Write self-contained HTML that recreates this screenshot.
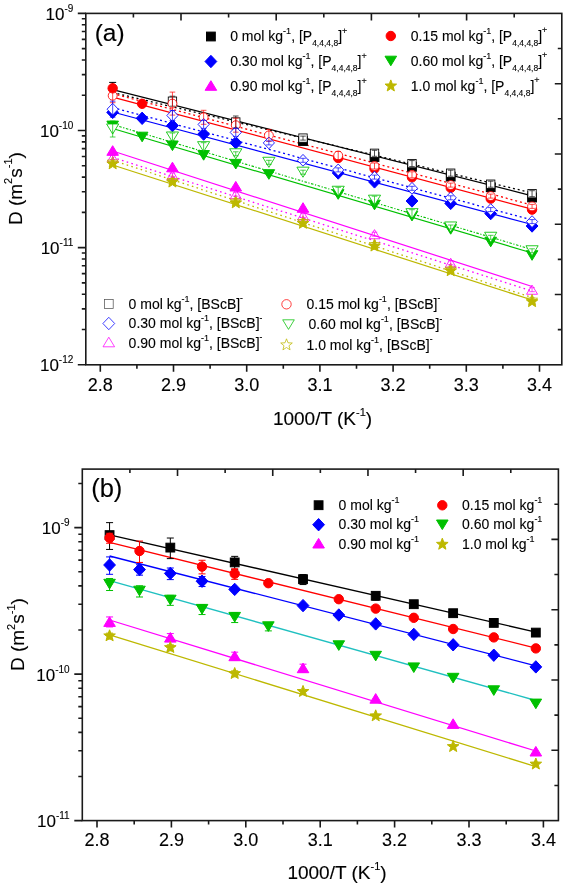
<!DOCTYPE html>
<html><head><meta charset="utf-8"><style>html,body{margin:0;padding:0;background:#fff;}svg{display:block;will-change:transform;}</style></head>
<body>
<svg width="566" height="886" viewBox="0 0 566 886" font-family='"Liberation Sans", sans-serif' fill="#000">
<style>text{stroke:#000;stroke-width:0.12px;paint-order:stroke;}</style>
<rect width="566" height="886" fill="#fff"/>
<path d="M100.30 364.80V371.80 M173.50 364.80V371.80 M246.70 364.80V371.80 M319.90 364.80V371.80 M393.10 364.80V371.80 M466.30 364.80V371.80 M539.50 364.80V371.80 M136.90 364.80V368.80 M210.10 364.80V368.80 M283.30 364.80V368.80 M356.50 364.80V368.80 M429.70 364.80V368.80 M502.90 364.80V368.80 M77.80 364.70H85.80 M81.80 329.45H85.80 M81.80 308.83H85.80 M81.80 294.20H85.80 M81.80 282.85H85.80 M81.80 273.58H85.80 M81.80 265.74H85.80 M81.80 258.95H85.80 M81.80 252.96H85.80 M77.80 247.60H85.80 M81.80 212.35H85.80 M81.80 191.73H85.80 M81.80 177.10H85.80 M81.80 165.75H85.80 M81.80 156.48H85.80 M81.80 148.64H85.80 M81.80 141.85H85.80 M81.80 135.86H85.80 M77.80 130.50H85.80 M81.80 95.25H85.80 M81.80 74.63H85.80 M81.80 60.00H85.80 M81.80 48.65H85.80 M81.80 39.38H85.80 M81.80 31.54H85.80 M81.80 24.75H85.80 M81.80 18.76H85.80 M77.80 13.40H85.80 M133.40 13.40V17.40 M181.00 13.40V20.40 M228.60 13.40V17.40 M276.20 13.40V20.40 M323.80 13.40V17.40 M371.40 13.40V20.40 M419.00 13.40V17.40 M466.60 13.40V20.40 M514.20 13.40V17.40 M561.80 329.66H557.80 M561.80 294.52H554.80 M561.80 259.38H557.80 M561.80 224.24H554.80 M561.80 189.10H557.80 M561.80 153.96H554.80 M561.80 118.82H557.80 M561.80 83.68H554.80 M561.80 48.54H557.80" stroke="#1a1a1a" stroke-width="1.6" fill="none"/>
<rect x="85.80" y="13.40" width="476.00" height="351.40" stroke="#1a1a1a" stroke-width="1.6" fill="none"/>
<text x="100.30" y="390.80" font-size="18" text-anchor="middle">2.8</text>
<text x="173.50" y="390.80" font-size="18" text-anchor="middle">2.9</text>
<text x="246.70" y="390.80" font-size="18" text-anchor="middle">3.0</text>
<text x="319.90" y="390.80" font-size="18" text-anchor="middle">3.1</text>
<text x="393.10" y="390.80" font-size="18" text-anchor="middle">3.2</text>
<text x="466.30" y="390.80" font-size="18" text-anchor="middle">3.3</text>
<text x="539.50" y="390.80" font-size="18" text-anchor="middle">3.4</text>
<text x="73.30" y="20.10" text-anchor="end" font-size="17">10<tspan font-size="10" dy="-8">-9</tspan></text>
<text x="73.30" y="137.20" text-anchor="end" font-size="17">10<tspan font-size="10" dy="-8">-10</tspan></text>
<text x="73.30" y="254.30" text-anchor="end" font-size="17">10<tspan font-size="10" dy="-8">-11</tspan></text>
<text x="73.30" y="371.40" text-anchor="end" font-size="17">10<tspan font-size="10" dy="-8">-12</tspan></text>
<path d="M97.00 820.60V827.60 M171.40 820.60V827.60 M245.80 820.60V827.60 M320.20 820.60V827.60 M394.60 820.60V827.60 M469.00 820.60V827.60 M543.40 820.60V827.60 M134.20 820.60V824.60 M208.60 820.60V824.60 M283.00 820.60V824.60 M357.40 820.60V824.60 M431.80 820.60V824.60 M506.20 820.60V824.60 M74.30 820.60H82.30 M78.30 776.50H82.30 M78.30 750.70H82.30 M78.30 732.40H82.30 M78.30 718.20H82.30 M78.30 706.60H82.30 M78.30 696.79H82.30 M78.30 688.30H82.30 M78.30 680.80H82.30 M74.30 674.10H82.30 M78.30 630.00H82.30 M78.30 604.20H82.30 M78.30 585.90H82.30 M78.30 571.70H82.30 M78.30 560.10H82.30 M78.30 550.29H82.30 M78.30 541.80H82.30 M78.30 534.30H82.30 M74.30 527.60H82.30 M78.30 483.50H82.30 M129.91 469.10V473.10 M177.52 469.10V476.10 M225.13 469.10V473.10 M272.74 469.10V476.10 M320.35 469.10V473.10 M367.96 469.10V476.10 M415.57 469.10V473.10 M463.18 469.10V476.10 M510.79 469.10V473.10 M558.40 785.45H554.40 M558.40 750.30H551.40 M558.40 715.15H554.40 M558.40 680.00H551.40 M558.40 644.85H554.40 M558.40 609.70H551.40 M558.40 574.55H554.40 M558.40 539.40H551.40 M558.40 504.25H554.40" stroke="#1a1a1a" stroke-width="1.6" fill="none"/>
<rect x="82.30" y="469.10" width="476.10" height="351.50" stroke="#1a1a1a" stroke-width="1.6" fill="none"/>
<text x="97.00" y="846.40" font-size="18" text-anchor="middle">2.8</text>
<text x="171.40" y="846.40" font-size="18" text-anchor="middle">2.9</text>
<text x="245.80" y="846.40" font-size="18" text-anchor="middle">3.0</text>
<text x="320.20" y="846.40" font-size="18" text-anchor="middle">3.1</text>
<text x="394.60" y="846.40" font-size="18" text-anchor="middle">3.2</text>
<text x="469.00" y="846.40" font-size="18" text-anchor="middle">3.3</text>
<text x="543.40" y="846.40" font-size="18" text-anchor="middle">3.4</text>
<text x="69.60" y="534.30" text-anchor="end" font-size="17">10<tspan font-size="10" dy="-8">-9</tspan></text>
<text x="69.60" y="680.80" text-anchor="end" font-size="17">10<tspan font-size="10" dy="-8">-10</tspan></text>
<text x="69.60" y="827.30" text-anchor="end" font-size="17">10<tspan font-size="10" dy="-8">-11</tspan></text>
<text x="322.5" y="425.4" font-size="19" text-anchor="middle">1000/T (K<tspan font-size="11" dy="-9.5">-1</tspan><tspan dy="9.5">)</tspan></text>
<text x="337.0" y="879" font-size="19" text-anchor="middle">1000/T (K<tspan font-size="11" dy="-9.5">-1</tspan><tspan dy="9.5">)</tspan></text>
<text transform="translate(21.7 188.6) rotate(-90)" font-size="19" text-anchor="middle">D (m<tspan font-size="11" dy="-9.5">2</tspan><tspan dy="9.5">s</tspan><tspan font-size="11" dy="-9.5">-1</tspan><tspan dy="9.5">)</tspan></text>
<text transform="translate(24.4 634.6) rotate(-90)" font-size="19" text-anchor="middle">D (m<tspan font-size="11" dy="-9.5">2</tspan><tspan dy="9.5">s</tspan><tspan font-size="11" dy="-9.5">-1</tspan><tspan dy="9.5">)</tspan></text>
<text x="94.7" y="41.2" font-size="24.5">(a)</text>
<text x="91.2" y="497.2" font-size="25.5">(b)</text>
<path d="M109.57 534.80L535.83 632.10" stroke="#000000" stroke-width="1.3" fill="none"/>
<path d="M109.57 542.40L535.83 648.10" stroke="#ff0000" stroke-width="1.3" fill="none"/>
<path d="M109.57 556.00L535.83 665.80" stroke="#0000ff" stroke-width="1.3" fill="none"/>
<path d="M109.57 580.60L535.83 700.50" stroke="#20c0c0" stroke-width="1.3" fill="none"/>
<path d="M109.57 620.00L535.83 751.00" stroke="#ff00ff" stroke-width="1.3" fill="none"/>
<path d="M109.57 634.90L535.83 766.60" stroke="#bdb800" stroke-width="1.3" fill="none"/>
<path d="M109.57 522.64V549.44M106.07 522.64H113.07M106.07 549.44H113.07" stroke="#000000" stroke-width="1.0" fill="none"/>
<rect x="105.17" y="530.70" width="8.80" height="8.80" fill="#000000" stroke="#000000" stroke-width="1.0"/>
<path d="M170.32 538.02V558.62M166.82 538.02H173.82M166.82 558.62H173.82" stroke="#000000" stroke-width="1.0" fill="none"/>
<rect x="165.92" y="543.20" width="8.80" height="8.80" fill="#000000" stroke="#000000" stroke-width="1.0"/>
<path d="M234.70 556.36V569.36M231.20 556.36H238.20M231.20 569.36H238.20" stroke="#000000" stroke-width="1.0" fill="none"/>
<rect x="230.30" y="558.00" width="8.80" height="8.80" fill="#000000" stroke="#000000" stroke-width="1.0"/>
<path d="M303.03 574.55V584.55M299.53 574.55H306.53M299.53 584.55H306.53" stroke="#000000" stroke-width="1.0" fill="none"/>
<rect x="298.63" y="574.80" width="8.80" height="8.80" fill="#000000" stroke="#000000" stroke-width="1.0"/>
<path d="M375.70 592.08V600.08M372.20 592.08H379.20M372.20 600.08H379.20" stroke="#000000" stroke-width="1.0" fill="none"/>
<rect x="371.30" y="591.40" width="8.80" height="8.80" fill="#000000" stroke="#000000" stroke-width="1.0"/>
<rect x="409.40" y="599.80" width="8.80" height="8.80" fill="#000000" stroke="#000000" stroke-width="1.0"/>
<rect x="448.74" y="608.80" width="8.80" height="8.80" fill="#000000" stroke="#000000" stroke-width="1.0"/>
<rect x="489.40" y="618.50" width="8.80" height="8.80" fill="#000000" stroke="#000000" stroke-width="1.0"/>
<rect x="531.43" y="628.20" width="8.80" height="8.80" fill="#000000" stroke="#000000" stroke-width="1.0"/>
<path d="M109.57 533.25V543.25M106.07 533.25H113.07M106.07 543.25H113.07" stroke="#ff0000" stroke-width="1.0" fill="none"/>
<circle cx="109.57" cy="537.90" r="4.70" fill="#ff0000" stroke="#ff0000" stroke-width="1.0"/>
<path d="M139.51 541.05V562.45M136.01 541.05H143.01M136.01 562.45H143.01" stroke="#ff0000" stroke-width="1.0" fill="none"/>
<circle cx="139.51" cy="551.00" r="4.70" fill="#ff0000" stroke="#ff0000" stroke-width="1.0"/>
<path d="M202.04 560.28V573.88M198.54 560.28H205.54M198.54 573.88H205.54" stroke="#ff0000" stroke-width="1.0" fill="none"/>
<circle cx="202.04" cy="566.60" r="4.70" fill="#ff0000" stroke="#ff0000" stroke-width="1.0"/>
<path d="M234.70 568.77V579.37M231.20 568.77H238.20M231.20 579.37H238.20" stroke="#ff0000" stroke-width="1.0" fill="none"/>
<circle cx="234.70" cy="573.70" r="4.70" fill="#ff0000" stroke="#ff0000" stroke-width="1.0"/>
<circle cx="268.35" cy="583.20" r="4.70" fill="#ff0000" stroke="#ff0000" stroke-width="1.0"/>
<circle cx="338.80" cy="599.20" r="4.70" fill="#ff0000" stroke="#ff0000" stroke-width="1.0"/>
<circle cx="375.70" cy="608.60" r="4.70" fill="#ff0000" stroke="#ff0000" stroke-width="1.0"/>
<circle cx="413.80" cy="617.80" r="4.70" fill="#ff0000" stroke="#ff0000" stroke-width="1.0"/>
<circle cx="453.14" cy="629.00" r="4.70" fill="#ff0000" stroke="#ff0000" stroke-width="1.0"/>
<circle cx="493.80" cy="637.40" r="4.70" fill="#ff0000" stroke="#ff0000" stroke-width="1.0"/>
<circle cx="535.83" cy="648.40" r="4.70" fill="#ff0000" stroke="#ff0000" stroke-width="1.0"/>
<path d="M109.57 556.91V574.31M106.07 556.91H113.07M106.07 574.31H113.07" stroke="#0000ff" stroke-width="1.0" fill="none"/>
<path d="M109.57 558.80L115.47 565.00L109.57 571.20L103.67 565.00Z" fill="#0000ff" stroke="#0000ff" stroke-width="1.0"/>
<path d="M139.51 564.76V575.16M136.01 564.76H143.01M136.01 575.16H143.01" stroke="#0000ff" stroke-width="1.0" fill="none"/>
<path d="M139.51 563.40L145.41 569.60L139.51 575.80L133.61 569.60Z" fill="#0000ff" stroke="#0000ff" stroke-width="1.0"/>
<path d="M170.32 568.01V579.61M166.82 568.01H173.82M166.82 579.61H173.82" stroke="#0000ff" stroke-width="1.0" fill="none"/>
<path d="M170.32 567.20L176.22 573.40L170.32 579.60L164.42 573.40Z" fill="#0000ff" stroke="#0000ff" stroke-width="1.0"/>
<path d="M202.04 576.55V586.55M198.54 576.55H205.54M198.54 586.55H205.54" stroke="#0000ff" stroke-width="1.0" fill="none"/>
<path d="M202.04 575.00L207.94 581.20L202.04 587.40L196.14 581.20Z" fill="#0000ff" stroke="#0000ff" stroke-width="1.0"/>
<path d="M234.70 583.20L240.60 589.40L234.70 595.60L228.80 589.40Z" fill="#0000ff" stroke="#0000ff" stroke-width="1.0"/>
<path d="M303.03 599.40L308.93 605.60L303.03 611.80L297.13 605.60Z" fill="#0000ff" stroke="#0000ff" stroke-width="1.0"/>
<path d="M338.80 608.80L344.70 615.00L338.80 621.20L332.90 615.00Z" fill="#0000ff" stroke="#0000ff" stroke-width="1.0"/>
<path d="M375.70 617.70L381.60 623.90L375.70 630.10L369.80 623.90Z" fill="#0000ff" stroke="#0000ff" stroke-width="1.0"/>
<path d="M413.80 628.20L419.70 634.40L413.80 640.60L407.90 634.40Z" fill="#0000ff" stroke="#0000ff" stroke-width="1.0"/>
<path d="M453.14 638.60L459.04 644.80L453.14 651.00L447.24 644.80Z" fill="#0000ff" stroke="#0000ff" stroke-width="1.0"/>
<path d="M493.80 649.00L499.70 655.20L493.80 661.40L487.90 655.20Z" fill="#0000ff" stroke="#0000ff" stroke-width="1.0"/>
<path d="M535.83 660.70L541.73 666.90L535.83 673.10L529.93 666.90Z" fill="#0000ff" stroke="#0000ff" stroke-width="1.0"/>
<path d="M109.57 578.52V590.52M106.07 578.52H113.07M106.07 590.52H113.07" stroke="#00c000" stroke-width="1.0" fill="none"/>
<path d="M103.77 579.30L115.37 579.30L109.57 588.90Z" fill="#00c000" stroke="#00c000" stroke-width="1.0"/>
<path d="M139.51 585.79V596.99M136.01 585.79H143.01M136.01 596.99H143.01" stroke="#00c000" stroke-width="1.0" fill="none"/>
<path d="M133.71 586.20L145.31 586.20L139.51 595.80Z" fill="#00c000" stroke="#00c000" stroke-width="1.0"/>
<path d="M170.32 595.35V605.35M166.82 595.35H173.82M166.82 605.35H173.82" stroke="#00c000" stroke-width="1.0" fill="none"/>
<path d="M164.52 595.20L176.12 595.20L170.32 604.80Z" fill="#00c000" stroke="#00c000" stroke-width="1.0"/>
<path d="M202.04 604.55V614.55M198.54 604.55H205.54M198.54 614.55H205.54" stroke="#00c000" stroke-width="1.0" fill="none"/>
<path d="M196.24 604.40L207.84 604.40L202.04 614.00Z" fill="#00c000" stroke="#00c000" stroke-width="1.0"/>
<path d="M234.70 612.55V622.55M231.20 612.55H238.20M231.20 622.55H238.20" stroke="#00c000" stroke-width="1.0" fill="none"/>
<path d="M228.90 612.40L240.50 612.40L234.70 622.00Z" fill="#00c000" stroke="#00c000" stroke-width="1.0"/>
<path d="M268.35 622.88V630.88M264.85 622.88H271.85M264.85 630.88H271.85" stroke="#00c000" stroke-width="1.0" fill="none"/>
<path d="M262.55 621.80L274.15 621.80L268.35 631.40Z" fill="#00c000" stroke="#00c000" stroke-width="1.0"/>
<path d="M333.00 640.80L344.60 640.80L338.80 650.40Z" fill="#00c000" stroke="#00c000" stroke-width="1.0"/>
<path d="M369.90 651.30L381.50 651.30L375.70 660.90Z" fill="#00c000" stroke="#00c000" stroke-width="1.0"/>
<path d="M408.00 662.90L419.60 662.90L413.80 672.50Z" fill="#00c000" stroke="#00c000" stroke-width="1.0"/>
<path d="M447.34 673.30L458.94 673.30L453.14 682.90Z" fill="#00c000" stroke="#00c000" stroke-width="1.0"/>
<path d="M488.00 685.80L499.60 685.80L493.80 695.40Z" fill="#00c000" stroke="#00c000" stroke-width="1.0"/>
<path d="M530.03 699.10L541.63 699.10L535.83 708.70Z" fill="#00c000" stroke="#00c000" stroke-width="1.0"/>
<path d="M109.57 616.95V626.95M106.07 616.95H113.07M106.07 626.95H113.07" stroke="#ff00ff" stroke-width="1.0" fill="none"/>
<path d="M103.77 626.40L115.37 626.40L109.57 616.80Z" fill="#ff00ff" stroke="#ff00ff" stroke-width="1.0"/>
<path d="M170.32 633.58V641.58M166.82 633.58H173.82M166.82 641.58H173.82" stroke="#ff00ff" stroke-width="1.0" fill="none"/>
<path d="M164.52 642.10L176.12 642.10L170.32 632.50Z" fill="#ff00ff" stroke="#ff00ff" stroke-width="1.0"/>
<path d="M234.70 652.18V660.18M231.20 652.18H238.20M231.20 660.18H238.20" stroke="#ff00ff" stroke-width="1.0" fill="none"/>
<path d="M228.90 660.70L240.50 660.70L234.70 651.10Z" fill="#ff00ff" stroke="#ff00ff" stroke-width="1.0"/>
<path d="M303.03 664.18V672.18M299.53 664.18H306.53M299.53 672.18H306.53" stroke="#ff00ff" stroke-width="1.0" fill="none"/>
<path d="M297.23 672.70L308.83 672.70L303.03 663.10Z" fill="#ff00ff" stroke="#ff00ff" stroke-width="1.0"/>
<path d="M369.90 703.20L381.50 703.20L375.70 693.60Z" fill="#ff00ff" stroke="#ff00ff" stroke-width="1.0"/>
<path d="M447.34 728.40L458.94 728.40L453.14 718.80Z" fill="#ff00ff" stroke="#ff00ff" stroke-width="1.0"/>
<path d="M530.03 756.00L541.63 756.00L535.83 746.40Z" fill="#ff00ff" stroke="#ff00ff" stroke-width="1.0"/>
<path d="M109.57 633.11V639.11M106.07 633.11H113.07M106.07 639.11H113.07" stroke="#bdb800" stroke-width="1.0" fill="none"/>
<path d="M109.57 629.80L108.05 633.80L103.77 634.01L107.10 636.70L105.99 640.84L109.57 638.50L113.16 640.84L112.05 636.70L115.38 634.01L111.10 633.80Z" fill="#bdb800" stroke="#bdb800" stroke-width="1.0" stroke-linejoin="round"/>
<path d="M170.32 644.81V650.81M166.82 644.81H173.82M166.82 650.81H173.82" stroke="#bdb800" stroke-width="1.0" fill="none"/>
<path d="M170.32 641.50L168.79 645.50L164.52 645.71L167.85 648.40L166.74 652.54L170.32 650.20L173.91 652.54L172.79 648.40L176.12 645.71L171.85 645.50Z" fill="#bdb800" stroke="#bdb800" stroke-width="1.0" stroke-linejoin="round"/>
<path d="M234.70 670.81V676.81M231.20 670.81H238.20M231.20 676.81H238.20" stroke="#bdb800" stroke-width="1.0" fill="none"/>
<path d="M234.70 667.50L233.17 671.50L228.89 671.71L232.22 674.40L231.11 678.54L234.70 676.20L238.28 678.54L237.17 674.40L240.50 671.71L236.22 671.50Z" fill="#bdb800" stroke="#bdb800" stroke-width="1.0" stroke-linejoin="round"/>
<path d="M303.03 685.40L301.50 689.40L297.23 689.61L300.56 692.30L299.45 696.44L303.03 694.10L306.62 696.44L305.50 692.30L308.83 689.61L304.56 689.40Z" fill="#bdb800" stroke="#bdb800" stroke-width="1.0" stroke-linejoin="round"/>
<path d="M375.70 709.80L374.18 713.80L369.90 714.01L373.23 716.70L372.12 720.84L375.70 718.50L379.29 720.84L378.18 716.70L381.51 714.01L377.23 713.80Z" fill="#bdb800" stroke="#bdb800" stroke-width="1.0" stroke-linejoin="round"/>
<path d="M453.14 740.50L451.62 744.50L447.34 744.71L450.67 747.40L449.56 751.54L453.14 749.20L456.73 751.54L455.62 747.40L458.95 744.71L454.67 744.50Z" fill="#bdb800" stroke="#bdb800" stroke-width="1.0" stroke-linejoin="round"/>
<path d="M535.83 758.00L534.31 762.00L530.03 762.21L533.36 764.90L532.25 769.04L535.83 766.70L539.42 769.04L538.31 764.90L541.64 762.21L537.36 762.00Z" fill="#bdb800" stroke="#bdb800" stroke-width="1.0" stroke-linejoin="round"/>
<path d="M112.67 82.40V93.60M109.17 82.40H116.17M109.17 93.60H116.17" stroke="#000000" stroke-width="1.0" fill="none"/>
<path d="M112.67 89.70L532.06 195.80" stroke="#000000" stroke-width="1.2" fill="none"/>
<path d="M112.67 97.20L532.06 209.20" stroke="#ff0000" stroke-width="1.2" fill="none"/>
<path d="M112.67 112.00L532.06 224.50" stroke="#0000ff" stroke-width="1.2" fill="none"/>
<path d="M112.67 128.50L532.06 253.00" stroke="#00c000" stroke-width="1.2" fill="none"/>
<path d="M112.67 151.00L532.06 286.50" stroke="#ff00ff" stroke-width="1.2" fill="none"/>
<path d="M112.67 165.00L532.06 300.00" stroke="#bdb800" stroke-width="1.2" fill="none"/>
<path d="M112.67 92.50L532.06 192.90" stroke="#000000" stroke-width="1.3" fill="none" stroke-dasharray="2 2.9"/>
<path d="M112.67 93.50L532.06 205.00" stroke="#ff0000" stroke-width="1.3" fill="none" stroke-dasharray="2 2.9"/>
<path d="M112.67 107.50L532.06 220.00" stroke="#0000ff" stroke-width="1.3" fill="none" stroke-dasharray="2 2.9"/>
<path d="M112.67 124.50L532.06 249.50" stroke="#00c000" stroke-width="1.1" fill="none" stroke-dasharray="2.5 1.6 1.2 1.6"/>
<path d="M112.67 157.50L532.06 291.00" stroke="#ff00ff" stroke-width="1.3" fill="none" stroke-dasharray="1.6 3.3"/>
<path d="M112.67 160.30L532.06 297.60" stroke="#bdb800" stroke-width="1.3" fill="none" stroke-dasharray="1.6 3.3"/>
<rect x="298.61" y="136.60" width="8.80" height="8.80" fill="#000000" stroke="#000000" stroke-width="1.0"/>
<rect x="370.11" y="152.60" width="8.80" height="8.80" fill="#000000" stroke="#000000" stroke-width="1.0"/>
<rect x="407.59" y="162.40" width="8.80" height="8.80" fill="#000000" stroke="#000000" stroke-width="1.0"/>
<rect x="446.30" y="172.20" width="8.80" height="8.80" fill="#000000" stroke="#000000" stroke-width="1.0"/>
<rect x="486.30" y="182.80" width="8.80" height="8.80" fill="#000000" stroke="#000000" stroke-width="1.0"/>
<rect x="527.66" y="193.10" width="8.80" height="8.80" fill="#000000" stroke="#000000" stroke-width="1.0"/>
<circle cx="142.13" cy="103.80" r="4.70" fill="#ff0000" stroke="#ff0000" stroke-width="1.0"/>
<circle cx="338.20" cy="158.00" r="4.70" fill="#ff0000" stroke="#ff0000" stroke-width="1.0"/>
<circle cx="374.51" cy="168.60" r="4.70" fill="#ff0000" stroke="#ff0000" stroke-width="1.0"/>
<circle cx="411.99" cy="177.30" r="4.70" fill="#ff0000" stroke="#ff0000" stroke-width="1.0"/>
<circle cx="450.70" cy="187.80" r="4.70" fill="#ff0000" stroke="#ff0000" stroke-width="1.0"/>
<circle cx="490.70" cy="198.60" r="4.70" fill="#ff0000" stroke="#ff0000" stroke-width="1.0"/>
<circle cx="532.06" cy="209.60" r="4.70" fill="#ff0000" stroke="#ff0000" stroke-width="1.0"/>
<path d="M112.67 106.20L118.57 112.40L112.67 118.60L106.77 112.40Z" fill="#0000ff" stroke="#0000ff" stroke-width="1.0"/>
<path d="M142.13 112.10L148.03 118.30L142.13 124.50L136.23 118.30Z" fill="#0000ff" stroke="#0000ff" stroke-width="1.0"/>
<path d="M172.44 119.40L178.34 125.60L172.44 131.80L166.54 125.60Z" fill="#0000ff" stroke="#0000ff" stroke-width="1.0"/>
<path d="M203.64 127.90L209.54 134.10L203.64 140.30L197.74 134.10Z" fill="#0000ff" stroke="#0000ff" stroke-width="1.0"/>
<path d="M235.77 136.50L241.67 142.70L235.77 148.90L229.87 142.70Z" fill="#0000ff" stroke="#0000ff" stroke-width="1.0"/>
<path d="M338.20 166.80L344.10 173.00L338.20 179.20L332.30 173.00Z" fill="#0000ff" stroke="#0000ff" stroke-width="1.0"/>
<path d="M374.51 175.70L380.41 181.90L374.51 188.10L368.61 181.90Z" fill="#0000ff" stroke="#0000ff" stroke-width="1.0"/>
<path d="M411.99 194.80L417.89 201.00L411.99 207.20L406.09 201.00Z" fill="#0000ff" stroke="#0000ff" stroke-width="1.0"/>
<path d="M450.70 197.20L456.60 203.40L450.70 209.60L444.80 203.40Z" fill="#0000ff" stroke="#0000ff" stroke-width="1.0"/>
<path d="M490.70 207.40L496.60 213.60L490.70 219.80L484.80 213.60Z" fill="#0000ff" stroke="#0000ff" stroke-width="1.0"/>
<path d="M532.06 219.80L537.96 226.00L532.06 232.20L526.16 226.00Z" fill="#0000ff" stroke="#0000ff" stroke-width="1.0"/>
<path d="M106.87 121.10L118.47 121.10L112.67 130.70Z" fill="#00c000" stroke="#00c000" stroke-width="1.0"/>
<path d="M136.33 132.20L147.93 132.20L142.13 141.80Z" fill="#00c000" stroke="#00c000" stroke-width="1.0"/>
<path d="M166.64 141.00L178.24 141.00L172.44 150.60Z" fill="#00c000" stroke="#00c000" stroke-width="1.0"/>
<path d="M197.84 150.60L209.44 150.60L203.64 160.20Z" fill="#00c000" stroke="#00c000" stroke-width="1.0"/>
<path d="M229.97 159.40L241.57 159.40L235.77 169.00Z" fill="#00c000" stroke="#00c000" stroke-width="1.0"/>
<path d="M263.08 169.70L274.68 169.70L268.88 179.30Z" fill="#00c000" stroke="#00c000" stroke-width="1.0"/>
<path d="M332.40 189.70L344.00 189.70L338.20 199.30Z" fill="#00c000" stroke="#00c000" stroke-width="1.0"/>
<path d="M368.71 200.20L380.31 200.20L374.51 209.80Z" fill="#00c000" stroke="#00c000" stroke-width="1.0"/>
<path d="M406.19 211.30L417.79 211.30L411.99 220.90Z" fill="#00c000" stroke="#00c000" stroke-width="1.0"/>
<path d="M444.90 224.60L456.50 224.60L450.70 234.20Z" fill="#00c000" stroke="#00c000" stroke-width="1.0"/>
<path d="M484.90 237.20L496.50 237.20L490.70 246.80Z" fill="#00c000" stroke="#00c000" stroke-width="1.0"/>
<path d="M526.26 250.70L537.86 250.70L532.06 260.30Z" fill="#00c000" stroke="#00c000" stroke-width="1.0"/>
<path d="M106.87 155.30L118.47 155.30L112.67 145.70Z" fill="#ff00ff" stroke="#ff00ff" stroke-width="1.0"/>
<path d="M166.64 171.80L178.24 171.80L172.44 162.20Z" fill="#ff00ff" stroke="#ff00ff" stroke-width="1.0"/>
<path d="M229.97 191.00L241.57 191.00L235.77 181.40Z" fill="#ff00ff" stroke="#ff00ff" stroke-width="1.0"/>
<path d="M297.21 212.30L308.81 212.30L303.01 202.70Z" fill="#ff00ff" stroke="#ff00ff" stroke-width="1.0"/>
<rect x="168.26" y="97.02" width="8.36" height="8.36" fill="#ffffff" stroke="#000000" stroke-width="0.85"/>
<rect x="231.59" y="117.82" width="8.36" height="8.36" fill="#ffffff" stroke="#000000" stroke-width="0.85"/>
<rect x="298.83" y="133.92" width="8.36" height="8.36" fill="#ffffff" stroke="#000000" stroke-width="0.85"/>
<rect x="370.33" y="149.12" width="8.36" height="8.36" fill="#ffffff" stroke="#000000" stroke-width="0.85"/>
<rect x="407.81" y="159.42" width="8.36" height="8.36" fill="#ffffff" stroke="#000000" stroke-width="0.85"/>
<rect x="446.52" y="169.02" width="8.36" height="8.36" fill="#ffffff" stroke="#000000" stroke-width="0.85"/>
<rect x="486.52" y="180.02" width="8.36" height="8.36" fill="#ffffff" stroke="#000000" stroke-width="0.85"/>
<rect x="527.88" y="189.52" width="8.36" height="8.36" fill="#ffffff" stroke="#000000" stroke-width="0.85"/>
<circle cx="112.67" cy="95.70" r="4.46" fill="#ffffff" stroke="#ff0000" stroke-width="0.85"/>
<circle cx="172.44" cy="103.60" r="4.46" fill="#ffffff" stroke="#ff0000" stroke-width="0.85"/>
<circle cx="203.64" cy="117.30" r="4.46" fill="#ffffff" stroke="#ff0000" stroke-width="0.85"/>
<circle cx="235.77" cy="125.20" r="4.46" fill="#ffffff" stroke="#ff0000" stroke-width="0.85"/>
<circle cx="268.88" cy="135.40" r="4.46" fill="#ffffff" stroke="#ff0000" stroke-width="0.85"/>
<circle cx="338.20" cy="155.50" r="4.46" fill="#ffffff" stroke="#ff0000" stroke-width="0.85"/>
<circle cx="374.51" cy="166.00" r="4.46" fill="#ffffff" stroke="#ff0000" stroke-width="0.85"/>
<circle cx="411.99" cy="174.80" r="4.46" fill="#ffffff" stroke="#ff0000" stroke-width="0.85"/>
<circle cx="450.70" cy="185.10" r="4.46" fill="#ffffff" stroke="#ff0000" stroke-width="0.85"/>
<circle cx="490.70" cy="196.10" r="4.46" fill="#ffffff" stroke="#ff0000" stroke-width="0.85"/>
<circle cx="532.06" cy="206.40" r="4.46" fill="#ffffff" stroke="#ff0000" stroke-width="0.85"/>
<path d="M112.67 103.31L118.28 109.20L112.67 115.09L107.07 109.20Z" fill="#ffffff" stroke="#0000ff" stroke-width="0.85"/>
<path d="M172.44 109.61L178.04 115.50L172.44 121.39L166.83 115.50Z" fill="#ffffff" stroke="#0000ff" stroke-width="0.85"/>
<path d="M203.64 118.51L209.25 124.40L203.64 130.29L198.04 124.40Z" fill="#ffffff" stroke="#0000ff" stroke-width="0.85"/>
<path d="M235.77 126.51L241.38 132.40L235.77 138.29L230.17 132.40Z" fill="#ffffff" stroke="#0000ff" stroke-width="0.85"/>
<path d="M268.88 137.01L274.49 142.90L268.88 148.79L263.28 142.90Z" fill="#ffffff" stroke="#0000ff" stroke-width="0.85"/>
<path d="M303.01 154.41L308.61 160.30L303.01 166.19L297.40 160.30Z" fill="#ffffff" stroke="#0000ff" stroke-width="0.85"/>
<path d="M338.20 164.01L343.81 169.90L338.20 175.79L332.60 169.90Z" fill="#ffffff" stroke="#0000ff" stroke-width="0.85"/>
<path d="M374.51 171.21L380.11 177.10L374.51 182.99L368.90 177.10Z" fill="#ffffff" stroke="#0000ff" stroke-width="0.85"/>
<path d="M411.99 182.41L417.60 188.30L411.99 194.19L406.39 188.30Z" fill="#ffffff" stroke="#0000ff" stroke-width="0.85"/>
<path d="M450.70 191.91L456.31 197.80L450.70 203.69L445.10 197.80Z" fill="#ffffff" stroke="#0000ff" stroke-width="0.85"/>
<path d="M490.70 203.71L496.31 209.60L490.70 215.49L485.10 209.60Z" fill="#ffffff" stroke="#0000ff" stroke-width="0.85"/>
<path d="M532.06 215.71L537.66 221.60L532.06 227.49L526.45 221.60Z" fill="#ffffff" stroke="#0000ff" stroke-width="0.85"/>
<path d="M106.58 123.96L118.76 123.96L112.67 134.04Z" fill="#ffffff" stroke="#00c000" stroke-width="0.85"/>
<path d="M166.35 131.96L178.53 131.96L172.44 142.04Z" fill="#ffffff" stroke="#00c000" stroke-width="0.85"/>
<path d="M197.55 141.66L209.73 141.66L203.64 151.74Z" fill="#ffffff" stroke="#00c000" stroke-width="0.85"/>
<path d="M229.68 148.76L241.86 148.76L235.77 158.84Z" fill="#ffffff" stroke="#00c000" stroke-width="0.85"/>
<path d="M262.79 157.26L274.97 157.26L268.88 167.34Z" fill="#ffffff" stroke="#00c000" stroke-width="0.85"/>
<path d="M296.92 167.16L309.10 167.16L303.01 177.24Z" fill="#ffffff" stroke="#00c000" stroke-width="0.85"/>
<path d="M332.11 186.26L344.29 186.26L338.20 196.34Z" fill="#ffffff" stroke="#00c000" stroke-width="0.85"/>
<path d="M368.42 195.16L380.60 195.16L374.51 205.24Z" fill="#ffffff" stroke="#00c000" stroke-width="0.85"/>
<path d="M405.90 208.66L418.08 208.66L411.99 218.74Z" fill="#ffffff" stroke="#00c000" stroke-width="0.85"/>
<path d="M444.61 221.96L456.79 221.96L450.70 232.04Z" fill="#ffffff" stroke="#00c000" stroke-width="0.85"/>
<path d="M484.61 232.26L496.79 232.26L490.70 242.34Z" fill="#ffffff" stroke="#00c000" stroke-width="0.85"/>
<path d="M525.97 245.76L538.15 245.76L532.06 255.84Z" fill="#ffffff" stroke="#00c000" stroke-width="0.85"/>
<path d="M107.16 162.06L118.18 162.06L112.67 152.94Z" fill="none" stroke="#ff00ff" stroke-width="0.85"/>
<path d="M166.93 179.56L177.95 179.56L172.44 170.44Z" fill="none" stroke="#ff00ff" stroke-width="0.85"/>
<path d="M230.26 198.76L241.28 198.76L235.77 189.64Z" fill="none" stroke="#ff00ff" stroke-width="0.85"/>
<path d="M297.50 219.96L308.52 219.96L303.01 210.84Z" fill="none" stroke="#ff00ff" stroke-width="0.85"/>
<path d="M369.00 238.76L380.02 238.76L374.51 229.64Z" fill="none" stroke="#ff00ff" stroke-width="0.85"/>
<path d="M445.19 267.36L456.21 267.36L450.70 258.24Z" fill="none" stroke="#ff00ff" stroke-width="0.85"/>
<path d="M526.55 294.26L537.57 294.26L532.06 285.14Z" fill="none" stroke="#ff00ff" stroke-width="0.85"/>
<path d="M112.67 156.21L111.22 160.00L107.16 160.21L110.32 162.76L109.27 166.69L112.67 164.47L116.08 166.69L115.02 162.76L118.18 160.21L114.12 160.00Z" fill="none" stroke="#bdb800" stroke-width="0.85" stroke-linejoin="round"/>
<path d="M172.44 174.71L170.99 178.50L166.93 178.71L170.09 181.26L169.03 185.19L172.44 182.97L175.85 185.19L174.79 181.26L177.95 178.71L173.89 178.50Z" fill="none" stroke="#bdb800" stroke-width="0.85" stroke-linejoin="round"/>
<path d="M235.77 195.21L234.32 199.00L230.26 199.21L233.43 201.76L232.37 205.69L235.77 203.47L239.18 205.69L238.12 201.76L241.29 199.21L237.23 199.00Z" fill="none" stroke="#bdb800" stroke-width="0.85" stroke-linejoin="round"/>
<path d="M303.01 215.71L301.56 219.50L297.50 219.71L300.66 222.26L299.60 226.19L303.01 223.97L306.41 226.19L305.36 222.26L308.52 219.71L304.46 219.50Z" fill="none" stroke="#bdb800" stroke-width="0.85" stroke-linejoin="round"/>
<path d="M374.51 238.71L373.06 242.50L369.00 242.71L372.16 245.26L371.10 249.19L374.51 246.97L377.92 249.19L376.86 245.26L380.02 242.71L375.96 242.50Z" fill="none" stroke="#bdb800" stroke-width="0.85" stroke-linejoin="round"/>
<path d="M450.70 263.20L449.25 267.00L445.19 267.21L448.35 269.76L447.29 273.69L450.70 271.47L454.11 273.69L453.05 269.76L456.21 267.21L452.15 267.00Z" fill="none" stroke="#bdb800" stroke-width="0.85" stroke-linejoin="round"/>
<path d="M532.06 294.20L530.60 298.00L526.54 298.21L529.71 300.76L528.65 304.69L532.06 302.47L535.46 304.69L534.41 300.76L537.57 298.21L533.51 298.00Z" fill="none" stroke="#bdb800" stroke-width="0.85" stroke-linejoin="round"/>
<circle cx="112.67" cy="88.30" r="4.70" fill="#ff0000" stroke="#ff0000" stroke-width="1.0"/>
<path d="M112.67 157.80L111.14 161.80L106.87 162.01L110.20 164.70L109.09 168.84L112.67 166.50L116.26 168.84L115.14 164.70L118.47 162.01L114.20 161.80Z" fill="#bdb800" stroke="#bdb800" stroke-width="1.0" stroke-linejoin="round"/>
<path d="M172.44 176.00L170.91 180.00L166.64 180.21L169.97 182.90L168.85 187.04L172.44 184.70L176.02 187.04L174.91 182.90L178.24 180.21L173.97 180.00Z" fill="#bdb800" stroke="#bdb800" stroke-width="1.0" stroke-linejoin="round"/>
<path d="M235.77 196.80L234.25 200.80L229.97 201.01L233.30 203.70L232.19 207.84L235.77 205.50L239.36 207.84L238.25 203.70L241.58 201.01L237.30 200.80Z" fill="#bdb800" stroke="#bdb800" stroke-width="1.0" stroke-linejoin="round"/>
<path d="M303.01 217.30L301.48 221.30L297.21 221.51L300.53 224.20L299.42 228.34L303.01 226.00L306.59 228.34L305.48 224.20L308.81 221.51L304.54 221.30Z" fill="#bdb800" stroke="#bdb800" stroke-width="1.0" stroke-linejoin="round"/>
<path d="M374.51 240.00L372.98 244.00L368.71 244.21L372.04 246.90L370.92 251.04L374.51 248.70L378.10 251.04L376.98 246.90L380.31 244.21L376.04 244.00Z" fill="#bdb800" stroke="#bdb800" stroke-width="1.0" stroke-linejoin="round"/>
<path d="M450.70 264.70L449.17 268.70L444.90 268.91L448.23 271.60L447.11 275.74L450.70 273.40L454.29 275.74L453.17 271.60L456.50 268.91L452.23 268.70Z" fill="#bdb800" stroke="#bdb800" stroke-width="1.0" stroke-linejoin="round"/>
<path d="M532.06 295.60L530.53 299.60L526.25 299.81L529.58 302.50L528.47 306.64L532.06 304.30L535.64 306.64L534.53 302.50L537.86 299.81L533.58 299.60Z" fill="#bdb800" stroke="#bdb800" stroke-width="1.0" stroke-linejoin="round"/>
<path d="M172.44 96.20V106.20M169.64 96.20H175.24M169.64 106.20H175.24" stroke="#000000" stroke-width="0.7" fill="none"/>
<path d="M235.77 116.00V128.00M232.97 116.00H238.57M232.97 128.00H238.57" stroke="#000000" stroke-width="0.7" fill="none"/>
<path d="M303.01 136.10V140.10M300.21 136.10H305.81M300.21 140.10H305.81" stroke="#000000" stroke-width="0.7" fill="none"/>
<path d="M374.51 150.30V156.30M371.71 150.30H377.31M371.71 156.30H377.31" stroke="#000000" stroke-width="0.7" fill="none"/>
<path d="M411.99 160.60V166.60M409.19 160.60H414.79M409.19 166.60H414.79" stroke="#000000" stroke-width="0.7" fill="none"/>
<path d="M450.70 170.20V176.20M447.90 170.20H453.50M447.90 176.20H453.50" stroke="#000000" stroke-width="0.7" fill="none"/>
<path d="M490.70 181.20V187.20M487.90 181.20H493.50M487.90 187.20H493.50" stroke="#000000" stroke-width="0.7" fill="none"/>
<path d="M532.06 190.70V196.70M529.26 190.70H534.86M529.26 196.70H534.86" stroke="#000000" stroke-width="0.7" fill="none"/>
<path d="M112.67 88.70V102.70M109.87 88.70H115.47M109.87 102.70H115.47" stroke="#ff0000" stroke-width="0.7" fill="none"/>
<path d="M172.44 92.10V115.10M169.64 92.10H175.24M169.64 115.10H175.24" stroke="#ff0000" stroke-width="0.7" fill="none"/>
<path d="M203.64 110.30V124.30M200.84 110.30H206.44M200.84 124.30H206.44" stroke="#ff0000" stroke-width="0.7" fill="none"/>
<path d="M235.77 118.20V132.20M232.97 118.20H238.57M232.97 132.20H238.57" stroke="#ff0000" stroke-width="0.7" fill="none"/>
<path d="M268.88 129.40V141.40M266.08 129.40H271.68M266.08 141.40H271.68" stroke="#ff0000" stroke-width="0.7" fill="none"/>
<path d="M338.20 151.50V159.50M335.40 151.50H341.00M335.40 159.50H341.00" stroke="#ff0000" stroke-width="0.7" fill="none"/>
<path d="M374.51 163.00V169.00M371.71 163.00H377.31M371.71 169.00H377.31" stroke="#ff0000" stroke-width="0.7" fill="none"/>
<path d="M411.99 171.80V177.80M409.19 171.80H414.79M409.19 177.80H414.79" stroke="#ff0000" stroke-width="0.7" fill="none"/>
<path d="M450.70 183.10V187.10M447.90 183.10H453.50M447.90 187.10H453.50" stroke="#ff0000" stroke-width="0.7" fill="none"/>
<path d="M490.70 194.10V198.10M487.90 194.10H493.50M487.90 198.10H493.50" stroke="#ff0000" stroke-width="0.7" fill="none"/>
<path d="M532.06 204.40V208.40M529.26 204.40H534.86M529.26 208.40H534.86" stroke="#ff0000" stroke-width="0.7" fill="none"/>
<path d="M112.67 101.20V117.20M109.87 101.20H115.47M109.87 117.20H115.47" stroke="#0000ff" stroke-width="0.7" fill="none"/>
<path d="M172.44 110.50V120.50M169.64 110.50H175.24M169.64 120.50H175.24" stroke="#0000ff" stroke-width="0.7" fill="none"/>
<path d="M203.64 120.40V128.40M200.84 120.40H206.44M200.84 128.40H206.44" stroke="#0000ff" stroke-width="0.7" fill="none"/>
<path d="M235.77 128.40V136.40M232.97 128.40H238.57M232.97 136.40H238.57" stroke="#0000ff" stroke-width="0.7" fill="none"/>
<path d="M268.88 140.90V144.90M266.08 140.90H271.68M266.08 144.90H271.68" stroke="#0000ff" stroke-width="0.7" fill="none"/>
<path d="M303.01 158.30V162.30M300.21 158.30H305.81M300.21 162.30H305.81" stroke="#0000ff" stroke-width="0.7" fill="none"/>
<path d="M338.20 167.90V171.90M335.40 167.90H341.00M335.40 171.90H341.00" stroke="#0000ff" stroke-width="0.7" fill="none"/>
<path d="M374.51 175.10V179.10M371.71 175.10H377.31M371.71 179.10H377.31" stroke="#0000ff" stroke-width="0.7" fill="none"/>
<path d="M411.99 186.30V190.30M409.19 186.30H414.79M409.19 190.30H414.79" stroke="#0000ff" stroke-width="0.7" fill="none"/>
<path d="M450.70 195.80V199.80M447.90 195.80H453.50M447.90 199.80H453.50" stroke="#0000ff" stroke-width="0.7" fill="none"/>
<path d="M490.70 207.60V211.60M487.90 207.60H493.50M487.90 211.60H493.50" stroke="#0000ff" stroke-width="0.7" fill="none"/>
<path d="M532.06 219.60V223.60M529.26 219.60H534.86M529.26 223.60H534.86" stroke="#0000ff" stroke-width="0.7" fill="none"/>
<path d="M112.67 121.00V137.00M109.87 121.00H115.47M109.87 137.00H115.47" stroke="#00c000" stroke-width="0.7" fill="none"/>
<path d="M172.44 133.00V141.00M169.64 133.00H175.24M169.64 141.00H175.24" stroke="#00c000" stroke-width="0.7" fill="none"/>
<path d="M203.64 142.70V150.70M200.84 142.70H206.44M200.84 150.70H206.44" stroke="#00c000" stroke-width="0.7" fill="none"/>
<path d="M235.77 151.80V155.80M232.97 151.80H238.57M232.97 155.80H238.57" stroke="#00c000" stroke-width="0.7" fill="none"/>
<path d="M268.88 160.30V164.30M266.08 160.30H271.68M266.08 164.30H271.68" stroke="#00c000" stroke-width="0.7" fill="none"/>
<path d="M303.01 170.20V174.20M300.21 170.20H305.81M300.21 174.20H305.81" stroke="#00c000" stroke-width="0.7" fill="none"/>
<path d="M338.20 187.30V195.30M335.40 187.30H341.00M335.40 195.30H341.00" stroke="#00c000" stroke-width="0.7" fill="none"/>
<path d="M374.51 196.20V204.20M371.71 196.20H377.31M371.71 204.20H377.31" stroke="#00c000" stroke-width="0.7" fill="none"/>
<path d="M411.99 209.70V217.70M409.19 209.70H414.79M409.19 217.70H414.79" stroke="#00c000" stroke-width="0.7" fill="none"/>
<path d="M450.70 225.00V229.00M447.90 225.00H453.50M447.90 229.00H453.50" stroke="#00c000" stroke-width="0.7" fill="none"/>
<path d="M490.70 235.30V239.30M487.90 235.30H493.50M487.90 239.30H493.50" stroke="#00c000" stroke-width="0.7" fill="none"/>
<path d="M532.06 248.80V252.80M529.26 248.80H534.86M529.26 252.80H534.86" stroke="#00c000" stroke-width="0.7" fill="none"/>
<path d="M112.67 155.50V159.50M109.87 155.50H115.47M109.87 159.50H115.47" stroke="#ff00ff" stroke-width="0.7" fill="none"/>
<path d="M172.44 173.00V177.00M169.64 173.00H175.24M169.64 177.00H175.24" stroke="#ff00ff" stroke-width="0.7" fill="none"/>
<path d="M235.77 192.20V196.20M232.97 192.20H238.57M232.97 196.20H238.57" stroke="#ff00ff" stroke-width="0.7" fill="none"/>
<path d="M303.01 213.40V217.40M300.21 213.40H305.81M300.21 217.40H305.81" stroke="#ff00ff" stroke-width="0.7" fill="none"/>
<path d="M374.51 232.20V236.20M371.71 232.20H377.31M371.71 236.20H377.31" stroke="#ff00ff" stroke-width="0.7" fill="none"/>
<path d="M450.70 260.80V264.80M447.90 260.80H453.50M447.90 264.80H453.50" stroke="#ff00ff" stroke-width="0.7" fill="none"/>
<path d="M532.06 287.70V291.70M529.26 287.70H534.86M529.26 291.70H534.86" stroke="#ff00ff" stroke-width="0.7" fill="none"/>
<path d="M112.67 160.00V164.00M109.87 160.00H115.47M109.87 164.00H115.47" stroke="#bdb800" stroke-width="0.7" fill="none"/>
<path d="M172.44 178.50V182.50M169.64 178.50H175.24M169.64 182.50H175.24" stroke="#bdb800" stroke-width="0.7" fill="none"/>
<path d="M235.77 199.00V203.00M232.97 199.00H238.57M232.97 203.00H238.57" stroke="#bdb800" stroke-width="0.7" fill="none"/>
<path d="M303.01 219.50V223.50M300.21 219.50H305.81M300.21 223.50H305.81" stroke="#bdb800" stroke-width="0.7" fill="none"/>
<path d="M374.51 242.50V246.50M371.71 242.50H377.31M371.71 246.50H377.31" stroke="#bdb800" stroke-width="0.7" fill="none"/>
<path d="M450.70 267.00V271.00M447.90 267.00H453.50M447.90 271.00H453.50" stroke="#bdb800" stroke-width="0.7" fill="none"/>
<path d="M532.06 298.00V302.00M529.26 298.00H534.86M529.26 302.00H534.86" stroke="#bdb800" stroke-width="0.7" fill="none"/>
<rect x="206.50" y="32.10" width="8.80" height="8.80" fill="#000000" stroke="#000000" stroke-width="1.0"/>
<text x="230.20" y="41.00" font-size="14">0 mol kg<tspan font-size="9" dy="-7">-1</tspan><tspan dy="7">, </tspan>[P<tspan font-size="8.5" dy="5">4,4,4,8</tspan><tspan dy="-5">]</tspan><tspan font-size="9" dy="-7.5">+</tspan></text>
<path d="M210.90 55.30L216.80 61.50L210.90 67.70L205.00 61.50Z" fill="#0000ff" stroke="#0000ff" stroke-width="1.0"/>
<text x="230.20" y="66.00" font-size="14">0.30 mol kg<tspan font-size="9" dy="-7">-1</tspan><tspan dy="7">, </tspan>[P<tspan font-size="8.5" dy="5">4,4,4,8</tspan><tspan dy="-5">]</tspan><tspan font-size="9" dy="-7.5">+</tspan></text>
<path d="M205.10 90.30L216.70 90.30L210.90 80.70Z" fill="#ff00ff" stroke="#ff00ff" stroke-width="1.0"/>
<text x="230.20" y="91.00" font-size="14">0.90 mol kg<tspan font-size="9" dy="-7">-1</tspan><tspan dy="7">, </tspan>[P<tspan font-size="8.5" dy="5">4,4,4,8</tspan><tspan dy="-5">]</tspan><tspan font-size="9" dy="-7.5">+</tspan></text>
<circle cx="390.80" cy="36.00" r="4.70" fill="#ff0000" stroke="#ff0000" stroke-width="1.0"/>
<text x="410.80" y="40.50" font-size="14">0.15 mol kg<tspan font-size="9" dy="-7">-1</tspan><tspan dy="7">, </tspan>[P<tspan font-size="8.5" dy="5">4,4,4,8</tspan><tspan dy="-5">]</tspan><tspan font-size="9" dy="-7.5">+</tspan></text>
<path d="M385.00 56.20L396.60 56.20L390.80 65.80Z" fill="#00c000" stroke="#00c000" stroke-width="1.0"/>
<text x="410.80" y="65.50" font-size="14">0.60 mol kg<tspan font-size="9" dy="-7">-1</tspan><tspan dy="7">, </tspan>[P<tspan font-size="8.5" dy="5">4,4,4,8</tspan><tspan dy="-5">]</tspan><tspan font-size="9" dy="-7.5">+</tspan></text>
<path d="M390.80 79.90L389.27 83.90L385.00 84.11L388.33 86.80L387.21 90.94L390.80 88.60L394.39 90.94L393.27 86.80L396.60 84.11L392.33 83.90Z" fill="#bdb800" stroke="#bdb800" stroke-width="1.0" stroke-linejoin="round"/>
<text x="410.80" y="90.50" font-size="14">1.0 mol kg<tspan font-size="9" dy="-7">-1</tspan><tspan dy="7">, </tspan>[P<tspan font-size="8.5" dy="5">4,4,4,8</tspan><tspan dy="-5">]</tspan><tspan font-size="9" dy="-7.5">+</tspan></text>
<rect x="104.40" y="299.60" width="8.80" height="8.80" fill="#ffffff" stroke="#555555" stroke-width="0.75"/>
<text x="128.60" y="308.60" font-size="14">0 mol kg<tspan font-size="9" dy="-7">-1</tspan><tspan dy="7">, </tspan>[BScB]<tspan font-size="8.5" dy="-7.5">-</tspan></text>
<path d="M108.80 317.30L114.70 323.50L108.80 329.70L102.90 323.50Z" fill="#ffffff" stroke="#0000ff" stroke-width="0.75"/>
<text x="128.60" y="328.10" font-size="14">0.30 mol kg<tspan font-size="9" dy="-7">-1</tspan><tspan dy="7">, </tspan>[BScB]<tspan font-size="8.5" dy="-7.5">-</tspan></text>
<path d="M103.00 346.80L114.60 346.80L108.80 337.20Z" fill="none" stroke="#ff00ff" stroke-width="0.75"/>
<text x="128.60" y="347.60" font-size="14">0.90 mol kg<tspan font-size="9" dy="-7">-1</tspan><tspan dy="7">, </tspan>[BScB]<tspan font-size="8.5" dy="-7.5">-</tspan></text>
<circle cx="286.50" cy="304.30" r="4.70" fill="#ffffff" stroke="#ff0000" stroke-width="0.75"/>
<text x="306.50" y="308.90" font-size="14">0.15 mol kg<tspan font-size="9" dy="-7">-1</tspan><tspan dy="7">, </tspan>[BScB]<tspan font-size="8.5" dy="-7.5">-</tspan></text>
<path d="M282.70 319.80L294.30 319.80L288.50 329.40Z" fill="#ffffff" stroke="#00c000" stroke-width="0.75"/>
<text x="308.50" y="329.20" font-size="14">0.60 mol kg<tspan font-size="9" dy="-7">-1</tspan><tspan dy="7">, </tspan>[BScB]<tspan font-size="8.5" dy="-7.5">-</tspan></text>
<path d="M286.50 338.80L284.97 342.80L280.70 343.01L284.03 345.70L282.91 349.84L286.50 347.50L290.09 349.84L288.97 345.70L292.30 343.01L288.03 342.80Z" fill="none" stroke="#bdb800" stroke-width="0.75" stroke-linejoin="round"/>
<text x="306.50" y="349.50" font-size="14">1.0 mol kg<tspan font-size="9" dy="-7">-1</tspan><tspan dy="7">, </tspan>[BScB]<tspan font-size="8.5" dy="-7.5">-</tspan></text>
<rect x="314.20" y="500.80" width="8.80" height="8.80" fill="#000000" stroke="#000000" stroke-width="1.0"/>
<text x="338.60" y="509.70" font-size="14">0 mol kg<tspan font-size="9" dy="-7">-1</tspan></text>
<path d="M318.60 518.50L324.50 524.70L318.60 530.90L312.70 524.70Z" fill="#0000ff" stroke="#0000ff" stroke-width="1.0"/>
<text x="338.60" y="529.20" font-size="14">0.30 mol kg<tspan font-size="9" dy="-7">-1</tspan></text>
<path d="M312.80 548.00L324.40 548.00L318.60 538.40Z" fill="#ff00ff" stroke="#ff00ff" stroke-width="1.0"/>
<text x="338.60" y="548.70" font-size="14">0.90 mol kg<tspan font-size="9" dy="-7">-1</tspan></text>
<circle cx="442.30" cy="505.30" r="4.70" fill="#ff0000" stroke="#ff0000" stroke-width="1.0"/>
<text x="462.00" y="509.80" font-size="14">0.15 mol kg<tspan font-size="9" dy="-7">-1</tspan></text>
<path d="M436.50 520.00L448.10 520.00L442.30 529.60Z" fill="#00c000" stroke="#00c000" stroke-width="1.0"/>
<text x="462.00" y="529.30" font-size="14">0.60 mol kg<tspan font-size="9" dy="-7">-1</tspan></text>
<path d="M442.30 538.20L440.77 542.20L436.50 542.41L439.83 545.10L438.71 549.24L442.30 546.90L445.89 549.24L444.77 545.10L448.10 542.41L443.83 542.20Z" fill="#bdb800" stroke="#bdb800" stroke-width="1.0" stroke-linejoin="round"/>
<text x="462.00" y="548.80" font-size="14">1.0 mol kg<tspan font-size="9" dy="-7">-1</tspan></text>
</svg>
</body></html>
